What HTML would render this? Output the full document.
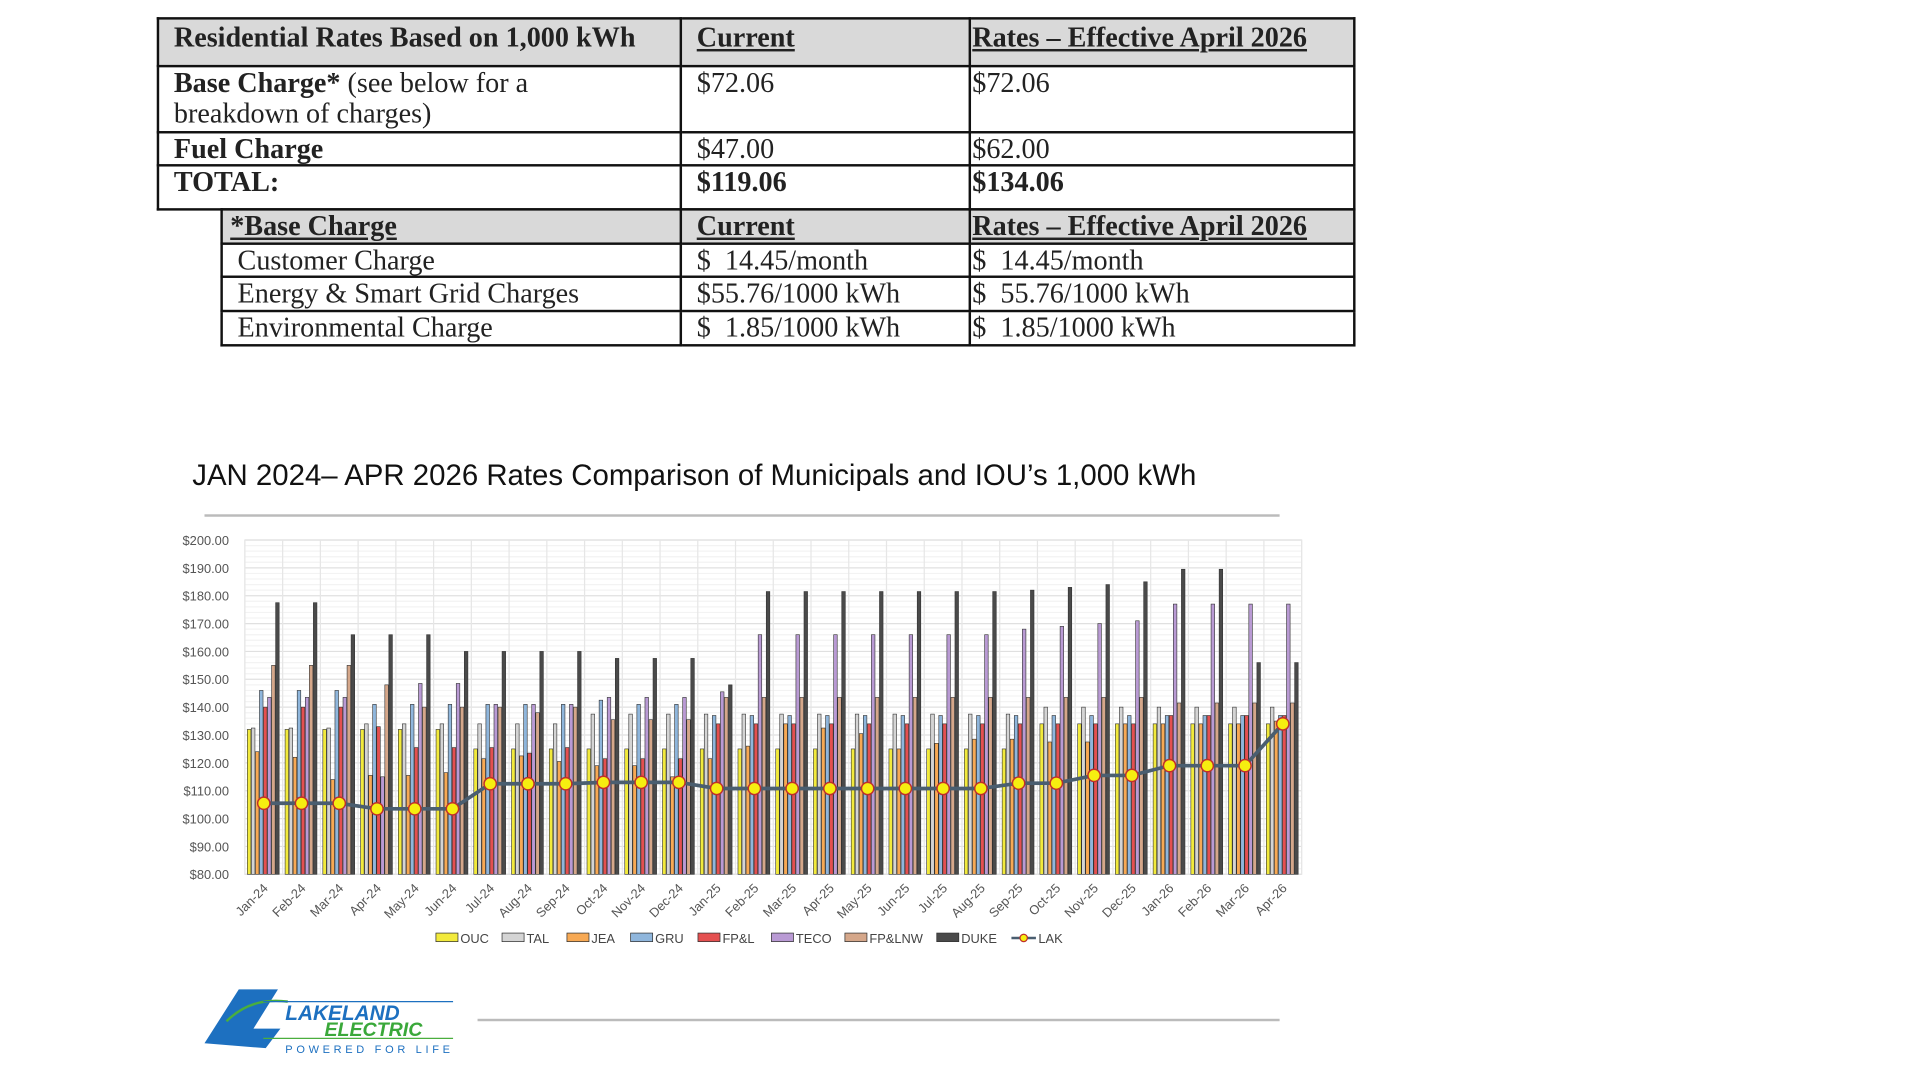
<!DOCTYPE html>
<html><head><meta charset="utf-8">
<style>
html,body{margin:0;padding:0;background:#fff;width:1920px;height:1080px;overflow:hidden}
#wrap{position:absolute;left:0;top:0;width:1560px;height:880px;transform:scale(1.2245);transform-origin:0 0}
table{border-collapse:collapse;position:absolute;font-family:"Liberation Serif",serif;font-size:23px;color:#222;table-layout:fixed}
td{border:2px solid #111;padding:0 12px;vertical-align:top;line-height:25px;white-space:nowrap;overflow:hidden}
.h td{background:#d9d9d9}
.u{text-decoration:underline;font-weight:bold}
</style></head><body>
<div id="wrap">
<table id="t1" style="left:128px;top:14px;width:977px">
<colgroup><col style="width:427px"><col style="width:236px"><col style="width:314px"></colgroup>
<tr class="h" style="height:39px"><td style="font-weight:bold;padding-top:2px">Residential Rates Based on 1,000 kWh</td><td class="u" style="padding-top:2px">Current</td><td class="u" style="padding-top:2px;padding-left:1px">Rates – Effective April 2026</td></tr>
<tr style="height:54px"><td><b>Base Charge*</b> (see below for a<br>breakdown of charges)</td><td>$72.06</td><td style="padding-left:1px">$72.06</td></tr>
<tr style="height:27px"><td><b>Fuel Charge</b></td><td>$47.00</td><td style="padding-left:1px">$62.00</td></tr>
<tr style="height:36px"><td><b>TOTAL:</b></td><td><b>$119.06</b></td><td style="padding-left:1px"><b>$134.06</b></td></tr>
</table>
<table id="t2" style="left:180px;top:170px;width:925px">
<colgroup><col style="width:375px"><col style="width:236px"><col style="width:314px"></colgroup>
<tr class="h" style="height:28px"><td class="u" style="padding-left:6px">*Base Charge</td><td class="u">Current</td><td class="u" style="padding-left:1px">Rates – Effective April 2026</td></tr>
<tr style="height:27px"><td>Customer Charge</td><td>$&nbsp; 14.45/month</td><td style="padding-left:1px">$&nbsp; 14.45/month</td></tr>
<tr style="height:28px"><td>Energy &amp; Smart Grid Charges</td><td>$55.76/1000 kWh</td><td style="padding-left:1px">$&nbsp; 55.76/1000 kWh</td></tr>
<tr style="height:28px"><td>Environmental Charge</td><td>$&nbsp; 1.85/1000 kWh</td><td style="padding-left:1px">$&nbsp; 1.85/1000 kWh</td></tr>
</table>
<div style="position:absolute;left:157px;top:375px;font-family:'Liberation Sans',sans-serif;font-size:24px;color:#111;white-space:nowrap">JAN 2024– APR 2026 Rates Comparison of Municipals and IOU’s 1,000 kWh</div>
<div style="position:absolute;left:167px;top:420px;width:878px;height:2px;background:#bbb"></div>
<svg id="chart" style="position:absolute;left:0;top:0" width="1550" height="800"></svg>
<svg style="position:absolute;left:165px;top:800px" width="210" height="65">
<polygon points="30,8 62,8 42,40 64,40 52,56 2,52" fill="#1d70c0"/>
<path d="M20,34 Q40,14 70,18" stroke="#4aae3e" stroke-width="2" fill="none"/>
<line x1="50" y1="18" x2="205" y2="18" stroke="#1d70c0" stroke-width="1"/>
<line x1="50" y1="48" x2="205" y2="48" stroke="#4aae3e" stroke-width="1"/>
<text x="68" y="33" font-family="Liberation Sans,sans-serif" font-weight="bold" font-style="italic" font-size="17" fill="#1d70c0">LAKELAND</text>
<text x="100" y="46" font-family="Liberation Sans,sans-serif" font-weight="bold" font-style="italic" font-size="16" fill="#3aa83a">ELECTRIC</text>
<text x="68" y="60" font-family="Liberation Sans,sans-serif" font-size="9" letter-spacing="3" fill="#1d70c0">POWERED FOR LIFE</text>
</svg>
<div style="position:absolute;left:390px;top:832px;width:655px;height:2px;background:#bbb"></div>
</div>
<script>
const categories=["Jan-24","Feb-24","Mar-24","Apr-24","May-24","Jun-24","Jul-24","Aug-24","Sep-24","Oct-24","Nov-24","Dec-24","Jan-25","Feb-25","Mar-25","Apr-25","May-25","Jun-25","Jul-25","Aug-25","Sep-25","Oct-25","Nov-25","Dec-25","Jan-26","Feb-26","Mar-26","Apr-26"];
const seriesNames=["OUC","TAL","JEA","GRU","FP&L","TECO","FP&LNW","DUKE"];
const ouc=[132,132,132,132,132,132,125,125,125,125,125,125,125,125,125,125,125,125,125,125,125,134,134,134,134,134,134,134];
const tal=[132.5,132.5,132.5,134,134,134,134,134,134,137.5,137.5,137.5,137.5,137.5,137.5,137.5,137.5,137.5,137.5,137.5,137.5,140,140,140,140,140,140,140];
const jea=[124,122,114,115.5,115.5,116.5,121.5,122.5,120.5,119,119,115,121.5,126,134,132.5,130.5,125,127,128.5,128.5,127.5,127.5,134,134,134,134,135];
const gru=[146,146,146,141,141,141,141,141,141,142.5,141,141,137,137,137,137,137,137,137,137,137,137,137,137,137,137,137,137];
const fpl=[140,140,140,133,125.5,125.5,125.5,123.5,125.5,121.5,121.5,121.5,134,134,134,134,134,134,134,134,134,134,134,134,137,137,137,137];
const teco=[143.5,143.5,143.5,115,148.5,148.5,141,141,141,143.5,143.5,143.5,145.5,166,166,166,166,166,166,166,168,169,170,171,177,177,177,177];
const fplnw=[155,155,155,148,140,140,140,138,140,135.5,135.5,135.5,143.5,143.5,143.5,143.5,143.5,143.5,143.5,143.5,143.5,143.5,143.5,143.5,141.5,141.5,141.5,141.5];
const duke=[177.5,177.5,166,166,166,160,160,160,160,157.5,157.5,157.5,148,181.5,181.5,181.5,181.5,181.5,181.5,181.5,182,183,184,185,189.5,189.5,156,156];
const lak=[105.5,105.5,105.5,103.5,103.5,103.5,112.5,112.5,112.5,113,113,113,110.8,110.8,110.8,110.8,110.8,110.8,110.8,110.8,112.7,112.7,115.5,115.5,119,119,119,134];
const yTicks=[80,90,100,110,120,130,140,150,160,170,180,190,200];

const NS="http://www.w3.org/2000/svg";
const svg=document.getElementById('chart');
const X0=200,X1=1063,Y0=714,Y1=441;
const colors=["#f2ea3c","#d4d4d4","#f7a954","#8fb6dc","#e45050","#b99ad4","#d5a78a","#4a4a4a"];
const allSeries=[ouc,tal,jea,gru,fpl,teco,fplnw,duke];
const y=v=>Y0-(v-80)/(200-80)*(Y0-Y1);
const gw=(X1-X0)/categories.length;
const xc=i=>X0+gw*(i+0.5);
function mk(tag,attrs,parent){const e=document.createElementNS(NS,tag);for(const k in attrs)e.setAttribute(k,attrs[k]);(parent||svg).appendChild(e);return e;}
mk('rect',{x:X0,y:Y1,width:X1-X0,height:Y0-Y1,fill:'#fff',stroke:'#e6e6e6'});
for(let v=80;v<=200;v+=2){mk('line',{x1:X0,x2:X1,y1:y(v),y2:y(v),stroke:v%10===0?'#e0e0e0':'#f3f3f3','stroke-width':1});}
for(let i=0;i<=categories.length;i++){mk('line',{x1:X0+gw*i,x2:X0+gw*i,y1:Y1,y2:Y0,stroke:'#e6e6e6'});}
yTicks.forEach(v=>{const t=mk('text',{x:187,y:y(v)+4,'text-anchor':'end','font-family':'Liberation Sans,sans-serif','font-size':10.5,fill:'#555'});t.textContent='$'+v.toFixed(2);

});
const bw=3.3;
categories.forEach((c,i)=>{
  allSeries.forEach((s,k)=>{
    const bx=X0+gw*i+2+k*bw;
    const r=mk('rect',{x:bx,y:y(s[i]),width:bw-0.4,height:Y0-y(s[i]),fill:colors[k],stroke:'#333','stroke-width':0.5});
    
    
  });
  const t=mk('text',{x:0,y:0,'text-anchor':'end','font-family':'Liberation Sans,sans-serif','font-size':10.5,fill:'#555',transform:`translate(${xc(i)+4},${Y0+12}) rotate(-45)`});
  t.textContent=c;
  
  
});
const pts=lak.map((v,i)=>xc(i)+','+y(v)).join(' ');
const pl=mk('polyline',{points:pts,fill:'none',stroke:'#4a5e70','stroke-width':3});


lak.forEach((v,i)=>{const c=mk('circle',{cx:xc(i),cy:y(v),r:5,fill:'#f6ee10',stroke:'#c0302a','stroke-width':1.2});

});
const lx=[356,410,463,515,570,630,690,765];
seriesNames.forEach((n,k)=>{
  const g=mk('g',{});
  
  
  mk('rect',{x:lx[k],y:762,width:18,height:7,fill:colors[k],stroke:'#333','stroke-width':0.6},g);
  const t=mk('text',{x:lx[k]+20,y:770,'font-family':'Liberation Sans,sans-serif','font-size':10.5,fill:'#444'},g);t.textContent=n;
});
const lg=mk('g',{});


mk('line',{x1:826,x2:846,y1:766,y2:766,stroke:'#4a5e70','stroke-width':2},lg);
mk('circle',{cx:836,cy:766,r:3,fill:'#f6ee10',stroke:'#c0302a'},lg);
const lt=mk('text',{x:848,y:770,'font-family':'Liberation Sans,sans-serif','font-size':10.5,fill:'#444'},lg);lt.textContent='LAK';
</script>
</body></html>
